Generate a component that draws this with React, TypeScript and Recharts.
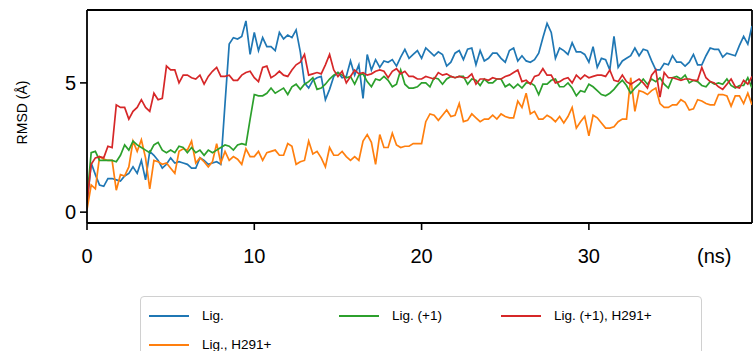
import React from 'react';
import { LineChart, Line, XAxis, YAxis, ReferenceLine } from 'recharts';

// sampling step of the trajectory (ns)
const STEP = 0.25;

const lig = [
  0.3, 1.9, 1.45, 1.05, 1.0, 1.3, 1.3, 1.25, 1.2, 1.4, 1.5, 1.75, 1.5, 2.0, 1.25, 2.35,
  2.2, 2.0, 1.7, 1.85, 2.1, 1.9, 1.95, 1.9, 1.85, 1.7, 1.7, 2.1, 2.0, 1.85, 1.9, 1.95,
  1.85, 4.2, 6.5, 6.75, 6.7, 6.8, 7.4, 6.1, 6.95, 6.25, 6.75, 6.4, 6.4, 6.25, 6.95, 6.7,
  6.85, 6.75, 7.05, 6.2, 5.0, 4.8, 5.1, 5.2, 5.25, 4.35, 4.75, 5.25, 5.4, 5.2, 5.25, 5.85,
  5.3, 5.7, 4.4, 6.1, 5.5, 5.9, 5.6, 5.85, 5.8, 5.9, 5.65, 6.0, 6.3, 5.95, 6.1, 6.25,
  5.95, 6.35, 6.2, 6.05, 6.2, 6.1, 5.65, 5.8, 6.15, 6.25, 5.9, 6.3, 6.35, 5.7, 6.25, 5.85,
  5.95, 6.15, 6.15, 5.95, 5.8, 6.25, 6.35, 5.85, 6.05, 5.85, 5.8, 5.9, 6.15, 6.75, 7.3, 6.95,
  5.95, 6.35, 6.25, 6.1, 6.55, 6.2, 6.2, 6.1, 5.8, 6.4, 5.6, 5.95, 5.9, 5.5, 6.8, 5.6,
  5.85, 5.95, 6.05, 6.35, 6.05, 6.3, 6.25, 5.85, 5.5, 5.5, 5.75, 5.7, 6.05, 5.8, 5.8, 5.65,
  5.8, 6.1, 5.7, 5.7, 6.05, 6.35, 6.3, 6.3, 6.0, 6.15, 6.1, 6.05, 6.45, 6.8, 6.5, 7.2,
];

const ligH291 = [
  0.1, 1.05, 0.9, 2.15, 2.05, 2.0, 2.0, 0.85, 1.45, 1.4, 1.75, 2.75, 2.35, 2.8, 2.1, 0.9,
  2.0, 1.95, 1.85, 1.9, 1.7, 1.5, 2.35, 2.45, 2.4, 2.75, 1.9, 2.1, 1.95, 1.75, 1.95, 2.65,
  1.9, 2.35, 2.0, 2.15, 2.05, 1.85, 2.45, 2.15, 2.15, 2.35, 2.0, 2.3, 2.35, 2.4, 2.2, 2.2,
  2.65, 2.55, 1.85, 1.95, 2.0, 2.75, 2.25, 2.35, 2.1, 1.75, 2.5, 2.2, 2.2, 2.35, 2.15, 2.0,
  2.15, 2.0, 2.75, 3.0, 2.7, 1.85, 3.0, 2.5, 2.5, 3.05, 2.6, 2.5, 2.55, 2.55, 2.65, 2.65,
  2.65, 3.5, 3.8, 3.75, 3.55, 3.75, 3.95, 3.7, 3.75, 4.2, 3.5, 3.55, 3.8, 3.65, 3.5, 3.6,
  3.6, 3.75, 3.6, 3.8, 3.7, 3.65, 3.65, 4.3, 4.05, 4.6, 3.8, 3.9, 3.6, 3.6, 3.75, 3.65,
  3.5, 3.7, 3.45, 3.7, 4.05, 3.25, 3.5, 3.7, 2.95, 3.75, 3.65, 3.45, 3.25, 3.25, 3.3, 3.5,
  3.6, 3.6, 5.2, 3.9, 4.7, 4.65, 4.55, 4.7, 4.8, 4.2, 4.05, 4.05, 4.15, 4.15, 4.35, 4.25,
  3.95, 4.0, 4.35, 4.3, 4.2, 4.15, 4.15, 4.55, 4.55, 4.5, 4.1, 4.5, 4.5, 4.2, 4.6, 4.15,
];

const ligP1 = [
  0.5, 2.3, 2.35, 2.0, 2.0, 2.0, 2.0, 1.95, 2.2, 2.6, 2.4, 2.75, 2.6, 2.5, 2.4, 2.3,
  2.6, 2.7, 2.4, 2.3, 2.4, 2.3, 2.55, 2.5, 2.3, 2.5, 2.3, 2.4, 2.2, 2.4, 2.3, 2.4,
  2.5, 2.6, 2.55, 2.4, 2.6, 2.65, 2.6, 3.6, 4.55, 4.5, 4.5, 4.6, 4.8, 4.6, 4.7, 4.8,
  4.55, 4.85, 4.95, 4.75, 4.95, 5.05, 5.2, 4.75, 4.8, 4.95, 5.15, 5.3, 5.4, 5.3, 5.2, 5.25,
  4.95, 5.3, 5.35, 5.05, 4.85, 5.15, 5.1, 5.25, 5.1, 4.85, 4.95, 5.5, 4.95, 4.8, 4.8, 4.85,
  5.0, 5.0, 4.85, 5.2, 5.15, 4.95, 5.15, 5.25, 5.2, 5.25, 5.25, 4.95, 5.15, 5.1, 4.9, 5.15,
  5.0, 5.0, 5.15, 5.15, 4.85, 4.95, 4.8, 4.95, 4.8, 5.0, 5.0, 4.9, 4.55, 4.95, 4.95, 5.1,
  5.15, 4.85, 4.85, 5.0, 4.8, 4.5, 4.7, 4.65, 4.95, 4.85, 4.7, 4.55, 4.5, 4.6, 4.75, 4.95,
  5.1, 4.9, 4.6, 4.8, 4.95, 5.15, 4.95, 5.15, 5.05, 5.2, 4.95, 4.8, 5.2, 5.25, 5.15, 5.3,
  5.0, 5.1, 5.05, 4.9, 4.85, 5.05, 4.95, 5.0, 4.95, 5.15, 4.9, 4.8, 4.9, 4.9, 5.2, 4.8,
];

const ligP1H291 = [
  0.4, 1.85, 2.1, 2.15, 2.1, 2.55, 2.5, 4.15, 4.05, 4.05, 3.6, 3.9, 4.05, 4.35, 4.05, 3.9,
  4.6, 4.35, 4.4, 5.65, 5.5, 5.5, 5.0, 5.3, 5.3, 5.2, 5.15, 5.3, 4.95, 5.25, 5.45, 5.6,
  5.25, 5.25, 5.3, 5.1, 5.1, 5.3, 5.4, 5.45, 5.2, 5.05, 5.6, 5.65, 5.2, 5.3, 5.45, 5.3,
  5.25, 5.5, 5.7, 5.8, 6.1, 5.3, 5.35, 5.4, 5.35, 5.7, 6.1, 5.5, 5.25, 5.45, 5.0, 5.25,
  5.5, 5.35, 5.4, 5.3, 5.35, 5.45, 5.5, 5.45, 5.2, 5.45, 5.55, 5.35, 5.45, 5.25, 5.25, 5.15,
  5.15, 5.25, 5.2, 5.15, 5.4, 5.3, 5.35, 5.25, 5.2, 5.25, 5.2, 5.2, 5.35, 4.95, 5.15, 5.15,
  5.1, 5.2, 5.15, 5.15, 5.25, 5.3, 5.4, 5.5, 5.05, 5.1, 4.95, 5.25, 5.3, 5.55, 5.3, 5.3,
  5.0, 5.05, 5.15, 5.2, 5.0, 5.3, 5.15, 5.3, 5.2, 5.25, 5.3, 5.3, 5.25, 5.5, 5.1, 5.05,
  5.3, 5.05, 4.95, 5.05, 5.15, 5.0, 4.8, 5.3, 5.5, 4.45, 5.4, 5.2, 5.2, 5.15, 5.1, 5.15,
  5.15, 5.1, 5.1, 5.6, 5.2, 5.05, 5.0, 4.85, 4.75, 4.95, 5.15, 4.85, 4.8, 5.1, 4.95, 5.25,
];

const xTicks = [0, 10, 20, 30];
const yTicks = [0, 5];
const X_MAX = 39.75;
const Y_MIN = -0.42;
const Y_MAX = 7.82;

const series = [
  { key: 'lig', name: 'Lig.', color: '#1f77b4' },
  { key: 'ligH291', name: 'Lig., H291+', color: '#ff7f0e' },
  { key: 'ligP1', name: 'Lig. (+1)', color: '#2ca02c' },
  { key: 'ligP1H291', name: 'Lig. (+1), H291+', color: '#d62728' },
];

const data = lig.map((v, i) => ({
  t: i * STEP,
  lig: v,
  ligH291: ligH291[i],
  ligP1: ligP1[i],
  ligP1H291: ligP1H291[i],
}));

const font = '"Liberation Sans", Arial, sans-serif';
const tickStyle = { fontSize: 20, fill: '#000', fontFamily: font };

const LegendItem = ({ name, color }: { name: string; color: string }) => (
  <div style={{ display: 'flex', alignItems: 'center', height: 29 }}>
    <div style={{ width: 40, height: 2, background: color, marginRight: 13 }} />
    <span>{name}</span>
  </div>
);

export default function App() {
  return (
    <div style={{ position: 'absolute', left: 0, top: 0, width: 754, height: 351, overflow: 'hidden', background: '#fff' }}>
      <LineChart width={754} height={351} data={data} margin={{ top: 10, right: 2, left: 27, bottom: 98 }}>
        <XAxis
          dataKey="t"
          type="number"
          domain={[0, X_MAX]}
          ticks={xTicks}
          tick={tickStyle}
          tickSize={7}
          tickMargin={19}
          height={30}
          axisLine={{ stroke: '#000', strokeWidth: 1.8 }}
          tickLine={{ stroke: '#000', strokeWidth: 1.6 }}
          allowDataOverflow
        />
        <YAxis
          type="number"
          domain={[Y_MIN, Y_MAX]}
          ticks={yTicks}
          tick={tickStyle}
          tickSize={7}
          tickMargin={4}
          width={60}
          axisLine={{ stroke: '#000', strokeWidth: 1.8 }}
          tickLine={{ stroke: '#000', strokeWidth: 1.6 }}
          allowDataOverflow
          label={{
            value: 'RMSD (Å)',
            angle: -90,
            position: 'insideLeft',
            offset: 0,
            dx: -5,
            dy: -4,
            style: { fontSize: 14, fill: '#000', fontFamily: font, textAnchor: 'middle' },
          }}
        />
        <ReferenceLine y={Y_MAX} stroke="#000" strokeWidth={1.8} />
        <ReferenceLine x={X_MAX} stroke="#000" strokeWidth={1.8} />
        {series.map((s) => (
          <Line
            key={s.key}
            type="linear"
            dataKey={s.key}
            name={s.name}
            stroke={s.color}
            strokeWidth={1.7}
            dot={false}
            activeDot={false}
            isAnimationActive={false}
          />
        ))}
      </LineChart>
      <div style={{ position: 'absolute', left: 697, top: 245, fontSize: 20, fontFamily: font, color: '#000' }}>(ns)</div>
      <div
        style={{
          position: 'absolute',
          left: 140,
          top: 296,
          width: 562,
          height: 70,
          border: '1.5px solid #d0d0d0',
          borderRadius: 4,
          boxSizing: 'border-box',
          fontFamily: font,
          fontSize: 13.5,
          color: '#000',
          display: 'flex',
          padding: '4px 0 0 8px',
        }}
      >
        <div style={{ width: 190 }}>
          <LegendItem name={series[0].name} color={series[0].color} />
          <LegendItem name={series[1].name} color={series[1].color} />
        </div>
        <div style={{ width: 162 }}>
          <LegendItem name={series[2].name} color={series[2].color} />
        </div>
        <div>
          <LegendItem name={series[3].name} color={series[3].color} />
        </div>
      </div>
    </div>
  );
}
